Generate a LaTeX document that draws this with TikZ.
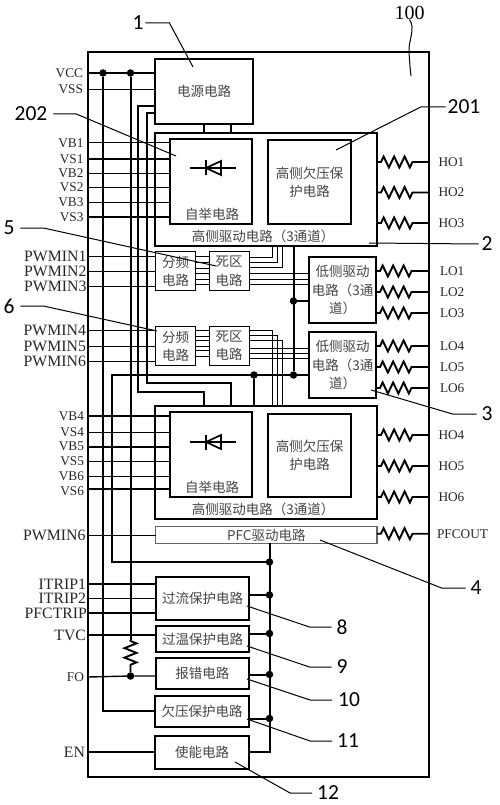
\documentclass[tikz,border=0pt]{standalone}
\usepackage{fontspec}
\usepackage{xcolor}
\setmainfont{Liberation Serif}
\newfontfamily\cjk{Noto Sans CJK SC}
\newfontfamily\numfont{Carlito}
\usetikzlibrary{positioning,decorations.pathmorphing}
\definecolor{inkgray}{HTML}{454545}
\definecolor{pfcgray}{HTML}{666666}

\begin{document}
\begin{tikzpicture}[
      x=1pt, y=-1pt,
      blk/.style={draw=black, line width=2pt, inner sep=0pt, outer sep=0pt, align=center, text=inkgray,
                  font=\cjk\fontsize{13.5}{18.3}\selectfont},
      captxt/.style={inner sep=0pt, outer sep=0pt, align=center, text=inkgray, font=\cjk\fontsize{13.5}{18}\selectfont},
      pinl/.style={inner sep=0pt, outer sep=0pt, text=black!85, font=\fontsize{13.3}{14}\selectfont},
      pinb/.style={inner sep=0pt, outer sep=0pt, text=black!85, font=\fontsize{15.8}{16}\selectfont},
      num/.style={inner sep=0pt, outer sep=0pt, font=\numfont\fontsize{21.5}{22}\selectfont},
      wire/.style={draw=black, line width=2pt},
      sig/.style={draw=black, line width=1pt},
      lead/.style={draw=black, line width=1pt},
      dot/.style={circle, fill=black, inner sep=0pt, outer sep=0pt, minimum size=7.5pt},
      res/.style={draw=black, line width=1.9pt, decorate,
                  decoration={zigzag, amplitude=5.5pt, segment length=10.5pt, pre length=4pt, post length=15pt}},
      resv/.style={draw=black, line width=1.9pt, decorate,
                  decoration={zigzag, amplitude=6pt, segment length=9.5pt, pre length=1pt, post length=6pt}},
      diode/.pic={
        \draw[line width=1.3pt] (-23,0) -- (23,0);
        \draw[line width=2pt] (-7,-7.5) -- (-7,7.5);
        \draw[line width=1.7pt] (-7,0) -- (8,-7) -- (8,7) -- cycle;
      }]
    \useasboundingbox (0,0) rectangle (500,805);
    % package outline
    \node[draw=black, line width=2pt, inner sep=0pt, outer sep=0pt, minimum width=341pt, minimum height=725pt] (pkg) at (258.5,414.5) {};

    % blocks
    \node[blk, minimum width=98pt, minimum height=65pt] (pwr) at (204,91.5) {电源电路};
    \node[blk, minimum width=222pt, minimum height=113pt] (hs1) at (266,189.5) {};
    \node[blk, minimum width=82.5pt, minimum height=85.5pt] (boot1) at (210.8,181.3) {};
    \node[blk, minimum width=83pt, minimum height=84pt] (uv1) at (309.5,182) {高侧欠压保\\护电路};
    \pic at (213,168) {diode};
    \node[captxt] (bootcap1) at (212,214) {自举电路};
    \node[captxt] (hscap1) at (263,236) {高侧驱动电路（3通道）};

    \node[blk, line width=1.3pt, minimum width=40pt, minimum height=39pt] (fq1) at (175.7,271.2) {分频\\电路};
    \node[blk, line width=1.3pt, minimum width=40pt, minimum height=39pt, right=13.5pt of fq1] (dz1) {死区\\电路};
    \node[blk, line width=1.3pt, minimum width=40pt, minimum height=39.5pt] (fq2) at (175.7,346) {分频\\电路};
    \node[blk, line width=1.3pt, minimum width=40pt, minimum height=39.5pt, right=13.5pt of fq2] (dz2) {死区\\电路};
    \node[blk, minimum width=67pt, minimum height=66.6pt] (low1) at (342.5,290) {低侧驱动\\电路（3通\\道）};
    \node[blk, minimum width=67pt, minimum height=66.6pt] (low2) at (342.5,365) {低侧驱动\\电路（3通\\道）};

    \node[blk, minimum width=222pt, minimum height=113pt] (hs2) at (266,462.5) {};
    \node[blk, minimum width=82.5pt, minimum height=85.3pt] (boot2) at (210.8,454.4) {};
    \node[blk, minimum width=83pt, minimum height=83pt] (uv2) at (309.5,455.5) {高侧欠压保\\护电路};
    \pic at (213,442) {diode};
    \node[captxt] (bootcap2) at (212,487) {自举电路};
    \node[captxt] (hscap2) at (263,509) {高侧驱动电路（3通道）};

    \node[blk, draw=pfcgray, line width=1.2pt, minimum width=221.3pt, minimum height=16.6pt] (pfc) at (266.3,535) {PFC驱动电路};
    \node[blk, minimum width=93pt, minimum height=43.3pt] (oc) at (202.5,598.4) {过流保护电路};
    \node[blk, minimum width=93pt, minimum height=26.6pt] (ot) at (202.5,639) {过温保护电路};
    \node[blk, minimum width=93.3pt, minimum height=31.6pt] (flt) at (202.4,673.5) {报错电路};
    \node[blk, minimum width=93.7pt, minimum height=31pt] (uvp) at (202.2,711.2) {欠压保护电路};
    \node[blk, minimum width=94pt, minimum height=33.3pt] (ena) at (202,752.4) {使能电路};

    % pins on the left
    \node[pinl, anchor=east] (vcc) at (83,73) {VCC};
    \node[pinl, anchor=east] (vss) at (83,89.5) {VSS};
    \node[pinl, anchor=east] (vb1) at (83.5,143) {VB1};
    \node[pinl, anchor=east] (vs1) at (83.5,159) {VS1};
    \node[pinl, anchor=east] (vb2) at (83.5,173.5) {VB2};
    \node[pinl, anchor=east] (vs2) at (83.5,187.5) {VS2};
    \node[pinl, anchor=east] (vb3) at (83.5,202.5) {VB3};
    \node[pinl, anchor=east] (vs3) at (83.5,217) {VS3};
    \node[pinb, anchor=east] (pw1) at (86.5,256) {PWMIN1};
    \node[pinb, anchor=east] (pw2) at (86.5,271) {PWMIN2};
    \node[pinb, anchor=east] (pw3) at (86.5,286) {PWMIN3};
    \node[pinb, anchor=east] (pw4) at (86,330.7) {PWMIN4};
    \node[pinb, anchor=east] (pw5) at (86,346) {PWMIN5};
    \node[pinb, anchor=east] (pw6) at (86,361) {PWMIN6};
    \node[pinl, anchor=east] (vb4) at (84,416) {VB4};
    \node[pinl, anchor=east] (vs4) at (84,432) {VS4};
    \node[pinl, anchor=east] (vb5) at (84,446.7) {VB5};
    \node[pinl, anchor=east] (vs5) at (84,461.5) {VS5};
    \node[pinl, anchor=east] (vb6) at (84,476) {VB6};
    \node[pinl, anchor=east] (vs6) at (84,491) {VS6};
    \node[pinb, anchor=east] (pw7) at (85.5,535) {PWMIN6};
    \node[pinb, anchor=east] (itr1) at (86,584) {ITRIP1};
    \node[pinb, anchor=east] (itr2) at (86,598.7) {ITRIP2};
    \node[pinb, anchor=east] (pft) at (87,613) {PFCTRIP};
    \node[pinb, anchor=east] (tvc) at (86,635) {TVC};
    \node[pinl, anchor=east] (fo) at (84,677) {FO};
    \node[pinb, anchor=east] (en) at (85,752) {EN};

    % pins on the right
    \node[pinl, anchor=west] (ho1) at (438.5,162) {HO1};
    \node[pinl, anchor=west] (ho2) at (438.5,192.5) {HO2};
    \node[pinl, anchor=west] (ho3) at (438.5,223) {HO3};
    \node[pinl, anchor=west] (lo1) at (440,271) {LO1};
    \node[pinl, anchor=west] (lo2) at (440,292) {LO2};
    \node[pinl, anchor=west] (lo3) at (440,313) {LO3};
    \node[pinl, anchor=west] (lo4) at (440,346) {LO4};
    \node[pinl, anchor=west] (lo5) at (440,367) {LO5};
    \node[pinl, anchor=west] (lo6) at (440,388) {LO6};
    \node[pinl, anchor=west] (ho4) at (438.5,435) {HO4};
    \node[pinl, anchor=west] (ho5) at (438.5,466) {HO5};
    \node[pinl, anchor=west] (ho6) at (438.5,497) {HO6};
    \node[pinl, anchor=west] (pfo) at (437,533.7) {PFCOUT};

    % junctions
    \node[dot] (ja) at (103,73) {};
    \node[dot] (jb) at (130.5,73) {};
    \node[dot] (jfo) at (130.5,676) {};
    \node[dot] (jd) at (254,375) {};
    \node[dot] (je) at (293.5,375) {};
    \node[dot] (jf) at (293.5,301) {};
    \node[dot] (jg) at (269.5,562) {};
    \node[dot] (j1) at (269.5,595) {};
    \node[dot] (j2) at (269.5,633.5) {};
    \node[dot] (j3) at (269.5,674.5) {};
    \node[dot] (j4) at (269.5,718.5) {};
    \coordinate (rtop) at (130.5,640);
    \coordinate (busa) at (138,106);
    \coordinate (busa2) at (204,391.5);
    \coordinate (busb) at (147,113);
    \coordinate (busb2) at (230.5,383);
    \coordinate (busc) at (112,375);
    \coordinate (ch1) at (272.7,300);
    \coordinate (ch2) at (277.7,300);
    \coordinate (ch3) at (282.3,300);

    % supply rails
    \draw[wire] (vcc -| pkg.west) -- (vcc -| pwr.west);
    \draw[sig, line width=1.2pt] (vss -| pkg.west) -- (vss -| pwr.west);
    \draw[wire] (ja) -- (ja |- uvp.west) -- (uvp.west);
    \draw[wire] (jb) -- (rtop);
    \draw[resv] (rtop) -- (jfo);
    \draw[wire] (busa2 |- pwr.south) -- (busa2 |- hs1.north);
    \draw[wire] (busb2 |- pwr.south) -- (busb2 |- hs1.north);
    \draw[wire] (pwr.west |- busa) -- (busa) |- (busa2) -- (busa2 |- hs2.north);
    \draw[wire] (pwr.west |- busb) -- (busb) |- (busb2) -- (busb2 |- hs2.north);
    \draw[wire] (low2.west |- busc) -- (busc) -- (busc |- jg) -- (jg);
    \draw[wire] (jd) -- (jd |- hs2.north);
    \draw[wire] (je) -- (je |- hs1.south);
    \draw[wire] (jf) -- (jf -| low1.west);
    \draw[wire] (jg |- pfc.south) -- (jg |- ena.east) -- (ena.east);
    \draw[wire] (oc.east |- j1) -- (j1);
    \draw[wire] (ot.east |- j2) -- (j2);
    \draw[wire] (flt.east |- j3) -- (j3);
    \draw[wire] (uvp.east |- j4) -- (j4);

    % left side signals
    \draw[sig] (vb1 -| pkg.west) -- (vb1 -| boot1.west);
    \draw[wire] (vs1 -| pkg.west) -- (vs1 -| boot1.west);
    \draw[sig] (vb2 -| pkg.west) -- (vb2 -| boot1.west);
    \draw[sig, line width=1.3pt] (vs2 -| pkg.west) -- (vs2 -| boot1.west);
    \draw[sig, line width=1.3pt] (vb3 -| pkg.west) -- (vb3 -| boot1.west);
    \draw[wire] (vs3 -| pkg.west) -- (vs3 -| boot1.west);
    \draw[sig] (pw1 -| pkg.west) -- (pw1 -| fq1.west);
    \draw[sig] (pw2 -| pkg.west) -- (pw2 -| fq1.west);
    \draw[sig] (pw3 -| pkg.west) -- (pw3 -| fq1.west);
    \draw[sig] (pw4 -| pkg.west) -- (pw4 -| fq2.west);
    \draw[sig] (pw5 -| pkg.west) -- (pw5 -| fq2.west);
    \draw[sig] (pw6 -| pkg.west) -- (pw6 -| fq2.west);
    \draw[wire] (vb4 -| pkg.west) -- (vb4 -| boot2.west);
    \draw[sig] (vs4 -| pkg.west) -- (vs4 -| boot2.west);
    \draw[wire] (vb5 -| pkg.west) -- (vb5 -| boot2.west);
    \draw[sig, line width=1.3pt] (vs5 -| pkg.west) -- (vs5 -| boot2.west);
    \draw[sig] (vb6 -| pkg.west) -- (vb6 -| boot2.west);
    \draw[wire] ([yshift=2pt]vs6.east -| pkg.west) -- ([yshift=2pt]vs6.east -| boot2.west);
    \draw[sig] (pw7 -| pkg.west) -- (pw7 -| pfc.west);
    \draw[sig, line width=1.4pt] (itr1 -| pkg.west) -- (itr1 -| oc.west);
    \draw[sig, line width=1.4pt] (itr2 -| pkg.west) -- (itr2 -| oc.west);
    \draw[sig, line width=1.4pt] (pft -| pkg.west) -- (pft -| oc.west);
    \draw[sig, line width=1.4pt] (tvc -| pkg.west) -- (tvc -| ot.west);
    \draw[sig, line width=1.4pt] (fo -| pkg.west) -- (jfo) -- (jfo -| flt.west);
    \draw[wire] (en -| pkg.west) -- (en -| ena.west);

    % between divider and dead zone
    \draw[sig] ([yshift=14.5pt]fq1.east) -- ([yshift=14.5pt]dz1.west);
    \draw[sig] ([yshift=8.5pt]fq1.east) -- ([yshift=8.5pt]dz1.west);
    \draw[sig] ([yshift=3pt]fq1.east) -- ([yshift=3pt]dz1.west);
    \draw[sig] ([yshift=-2pt]fq1.east) -- ([yshift=-2pt]dz1.west);
    \draw[sig] ([yshift=-8pt]fq1.east) -- ([yshift=-8pt]dz1.west);
    \draw[sig] ([yshift=-13.5pt]fq1.east) -- ([yshift=-13.5pt]dz1.west);
    \draw[sig] ([yshift=16pt]fq2.east) -- ([yshift=16pt]dz2.west);
    \draw[sig] ([yshift=10pt]fq2.east) -- ([yshift=10pt]dz2.west);
    \draw[sig] ([yshift=5.5pt]fq2.east) -- ([yshift=5.5pt]dz2.west);
    \draw[sig] (fq2.east) -- (dz2.west);
    \draw[sig] ([yshift=-4.5pt]fq2.east) -- ([yshift=-4.5pt]dz2.west);
    \draw[sig] ([yshift=-10pt]fq2.east) -- ([yshift=-10pt]dz2.west);

    % dead zone outputs
    \draw[sig] ([yshift=14pt]dz1.east) -| (ch1 |- hs1.south);
    \draw[sig] ([yshift=8.8pt]dz1.east) -| (ch2 |- hs1.south);
    \draw[sig] ([yshift=3.8pt]dz1.east) -| (ch3 |- hs1.south);
    \draw[sig] ([yshift=-2pt]dz1.east) -- ([yshift=-2pt]dz1.east -| low1.west);
    \draw[sig] ([yshift=-7.8pt]dz1.east) -- ([yshift=-7.8pt]dz1.east -| low1.west);
    \draw[sig] ([yshift=-13pt]dz1.east) -- ([yshift=-13pt]dz1.east -| low1.west);
    \draw[sig] ([yshift=15.6pt]dz2.east) -| (ch1 |- hs2.north);
    \draw[sig] ([yshift=10.3pt]dz2.east) -| (ch2 |- hs2.north);
    \draw[sig] ([yshift=5.3pt]dz2.east) -| (ch3 |- hs2.north);
    \draw[sig] ([yshift=-2pt]dz2.east) -- ([yshift=-2pt]dz2.east -| low2.west);
    \draw[sig] ([yshift=-7pt]dz2.east) -- ([yshift=-7pt]dz2.east -| low2.west);
    \draw[sig] ([yshift=-12.7pt]dz2.east) -- ([yshift=-12.7pt]dz2.east -| low2.west);

    % output resistors
    \draw[res] (ho1 -| hs1.east) -- (ho1 -| pkg.east);
    \draw[res] (ho2 -| hs1.east) -- (ho2 -| pkg.east);
    \draw[res] (ho3 -| hs1.east) -- (ho3 -| pkg.east);
    \draw[res] (lo1 -| low1.east) -- (lo1 -| pkg.east);
    \draw[res] (lo2 -| low1.east) -- (lo2 -| pkg.east);
    \draw[res] (lo3 -| low1.east) -- (lo3 -| pkg.east);
    \draw[res] (lo4 -| low2.east) -- (lo4 -| pkg.east);
    \draw[res] (lo5 -| low2.east) -- (lo5 -| pkg.east);
    \draw[res] (lo6 -| low2.east) -- (lo6 -| pkg.east);
    \draw[res] (ho4 -| hs2.east) -- (ho4 -| pkg.east);
    \draw[res] (ho5 -| hs2.east) -- (ho5 -| pkg.east);
    \draw[res] (ho6 -| hs2.east) -- (ho6 -| pkg.east);
    \draw[res] (pfo -| pfc.east) -- (pfo -| pkg.east);

    % reference numerals
    \node[num] (lb1) at (138,23) {1};
    \node[num, font=\fontsize{20}{20}\selectfont] (lb100) at (409.5,13) {100};
    \node[num] (lb201) at (464,107) {201};
    \node[num] (lb202) at (31,114) {202};
    \node[num] (lb2) at (487,244) {2};
    \node[num] (lb5) at (9,228) {5};
    \node[num] (lb6) at (9,306) {6};
    \node[num] (lb3) at (487,414) {3};
    \node[num] (lb4) at (476,588) {4};
    \node[num] (lb8) at (342,627) {8};
    \node[num] (lb9) at (342,667) {9};
    \node[num] (lb10) at (349,700) {10};
    \node[num] (lb11) at (348,741) {11};
    \node[num] (lb12) at (328,793) {12};
    \coordinate (t1) at (193,67);
    \coordinate (t100) at (411,76);
    \coordinate (t201) at (336,150);
    \coordinate (t202) at (176,156);
    \coordinate (t2) at (369,243);
    \coordinate (t5) at (216,266);
    \coordinate (t6) at (157,331);
    \coordinate (t3) at (371,390);
    \coordinate (t4) at (320,540);
    \coordinate (t8) at (247,606);
    \coordinate (t9) at (247,646);
    \coordinate (t10) at (247,679);
    \coordinate (t11) at (247,719);
    \coordinate (t12) at (235,762);
    \draw[lead] ([xshift=2pt]lb1.east) -- ++(24,0) -- (t1);
    \draw[lead] (lb100.south) .. controls (416,28) and (408,42) .. (409,52) .. controls (409.5,60) and (410,68) .. (t100);
    \draw[lead] ([xshift=-2pt]lb201.west) -- ++(-25,0) -- (t201);
    \draw[lead] ([xshift=6pt]lb202.east) -- ++(23,0) -- (t202);
    \draw[lead] ([xshift=-3pt]lb2.west) -- (t2);
    \draw[lead] ([xshift=6pt]lb5.east) -- ++(23,0) -- (t5);
    \draw[lead] ([xshift=6pt]lb6.east) -- ++(23,0) -- (t6);
    \draw[lead] ([xshift=-5pt]lb3.west) -- ++(-24,0) -- (t3);
    \draw[lead] ([xshift=-5pt]lb4.west) -- ++(-24,0) -- (t4);
    \draw[lead] ([xshift=-5pt]lb8.west) -- ++(-22,0) -- (t8);
    \draw[lead] ([xshift=-5pt]lb9.west) -- ++(-22,0) -- (t9);
    \draw[lead] ([xshift=-6pt]lb10.west) -- ++(-22,0) -- (t10);
    \draw[lead] ([xshift=-5pt]lb11.west) -- ++(-22,0) -- (t11);
    \draw[lead] ([xshift=-5pt]lb12.west) -- ++(-22,0) -- (t12);
  \end{tikzpicture}
\end{document}
